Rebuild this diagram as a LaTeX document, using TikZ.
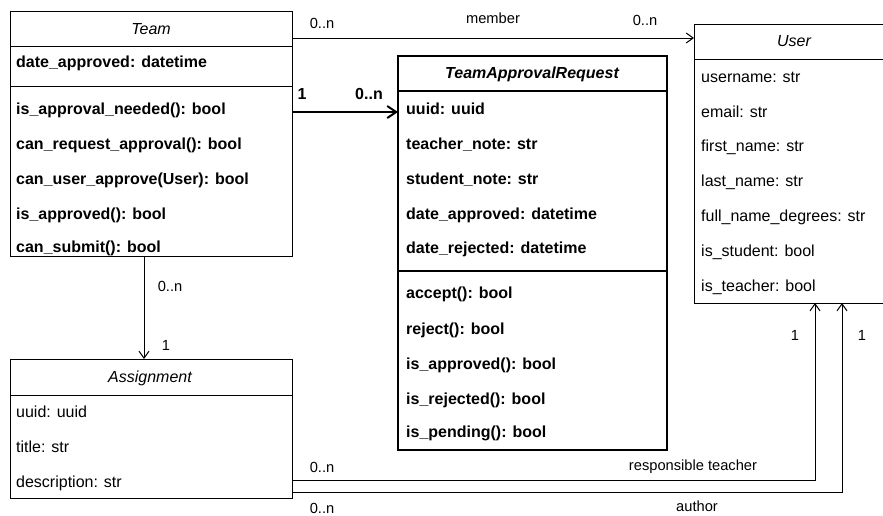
\documentclass[tikz,border=0pt]{standalone}
\usepackage{fontspec}
\setmainfont{Liberation Sans}
\usetikzlibrary{arrows.meta}
\begin{document}
\begin{tikzpicture}[x=1pt, y=-1pt,
  cls/.style={draw, line width=1pt, anchor=north west, inner sep=0pt, outer sep=0pt},
  row/.style={anchor=west, inner sep=0pt, text height=11.5pt, text depth=3.4pt,
              font=\fontsize{16}{19}\selectfont},
  brow/.style={row, font=\fontsize{16}{19}\selectfont\bfseries},
  head/.style={anchor=center, inner sep=0pt, text height=11.5pt, text depth=3.4pt,
               font=\fontsize{16}{19}\selectfont\itshape},
  lbl/.style={inner sep=0pt, font=\fontsize{14.67}{17}\selectfont},
  blbl/.style={inner sep=0pt, font=\fontsize{16}{19}\selectfont\bfseries},
  assoc/.style={line width=1pt, -{Straight Barb[length=7pt, width=10pt]}},
  strong/.style={line width=2pt, -{Straight Barb[length=9pt, width=12pt]}}
]
\useasboundingbox[fill=white] (0,0) rectangle (883,515);

% class frames
\node[cls, minimum width=282pt, minimum height=245pt] (team) at (10,11) {};
\node[cls, line width=2pt, minimum width=269pt, minimum height=394pt] (tar) at (398,56) {};
\node[cls, minimum width=200pt, minimum height=279pt] (user) at (694,24) {};
\node[cls, minimum width=282pt, minimum height=139pt] (assign) at (10,359) {};

% compartment separators
\draw[line width=1pt] (10,46) -- (292,46);
\draw[line width=1pt] (10,86) -- (292,86);
\draw[line width=2pt] (398,91) -- (667,91);
\draw[line width=2pt] (398,271) -- (667,271);
\draw[line width=1pt] (694,59) -- (894,59);
\draw[line width=1pt] (10,395) -- (292,395);

% Team
\node[head] (teamH) at (151,30) {Team};
\node[brow] (team1) at (16,63)  {date\_approved: datetime};
\node[brow] (team2) at (16,110) {is\_approval\_needed(): bool};
\node[brow] (team3) at (16,145) {can\_request\_approval(): bool};
\node[brow] (team4) at (16,180) {can\_user\_approve(User): bool};
\node[brow] (team5) at (16,215) {is\_approved(): bool};
\node[brow] (team6) at (16,248) {can\_submit(): bool};

% TeamApprovalRequest
\node[head, font=\fontsize{16}{19}\selectfont\bfseries\itshape] (tarH) at (532,74) {TeamApprovalRequest};
\node[brow] (tar1)  at (406,110) {uuid: uuid};
\node[brow] (tar2)  at (406,145) {teacher\_note: str};
\node[brow] (tar3)  at (406,180) {student\_note: str};
\node[brow] (tar4)  at (406,215) {date\_approved: datetime};
\node[brow] (tar5)  at (406,249) {date\_rejected: datetime};
\node[brow] (tar6)  at (406,294) {accept(): bool};
\node[brow] (tar7)  at (406,330) {reject(): bool};
\node[brow] (tar8)  at (406,365) {is\_approved(): bool};
\node[brow] (tar9)  at (406,400) {is\_rejected(): bool};
\node[brow] (tar10) at (406,433) {is\_pending(): bool};

% User
\node[head] (userH) at (794,42) {User};
\node[row] (user1) at (701,78)  {username: str};
\node[row] (user2) at (701,113) {email: str};
\node[row] (user3) at (701,147) {first\_name: str};
\node[row] (user4) at (701,182) {last\_name: str};
\node[row] (user5) at (701,217) {full\_name\_degrees: str};
\node[row] (user6) at (701,252) {is\_student: bool};
\node[row] (user7) at (701,287) {is\_teacher: bool};

% Assignment
\node[head] (assignH) at (150,378) {Assignment};
\node[row] (assign1) at (16,413) {uuid: uuid};
\node[row] (assign2) at (16,448) {title: str};
\node[row] (assign3) at (16,483) {description: str};

% associations
\coordinate (ymember) at (0,38);
\coordinate (yrequest) at (0,112);
\coordinate (xtask) at (144,0);
\coordinate (yteacher) at (0,480);
\coordinate (xteacher) at (815,0);
\coordinate (yauthor) at (0,492);
\coordinate (xauthor) at (842,0);

\draw[assoc] (team.east |- ymember) -- (user.west |- ymember);
\draw[strong] (team.east |- yrequest) -- (tar.west |- yrequest);
\draw[assoc] (team.south -| xtask) -- (assign.north -| xtask);
\draw[assoc] (assign.east |- yteacher) -| (user.south -| xteacher);
\draw[assoc] (assign.east |- yauthor) -| (user.south -| xauthor);

% multiplicities and roles
\node[lbl] (mA) at (322,23) {0..n};
\node[lbl] (mName) at (493,18) {member};
\node[lbl] (mB) at (645,20) {0..n};
\node[blbl] (rA) at (302,94) {1};
\node[blbl] (rB) at (369,94) {0..n};
\node[lbl] (tA) at (170,286) {0..n};
\node[lbl] (tB) at (166,345) {1};
\node[lbl] (sA) at (322,467) {0..n};
\node[lbl] (sName) at (693,467) {responsible teacher};
\node[lbl] (sB) at (795,335) {1};
\node[lbl] (aA) at (322,508) {0..n};
\node[lbl] (aName) at (697,506) {author};
\node[lbl] (aB) at (862,335) {1};
\end{tikzpicture}
\end{document}
